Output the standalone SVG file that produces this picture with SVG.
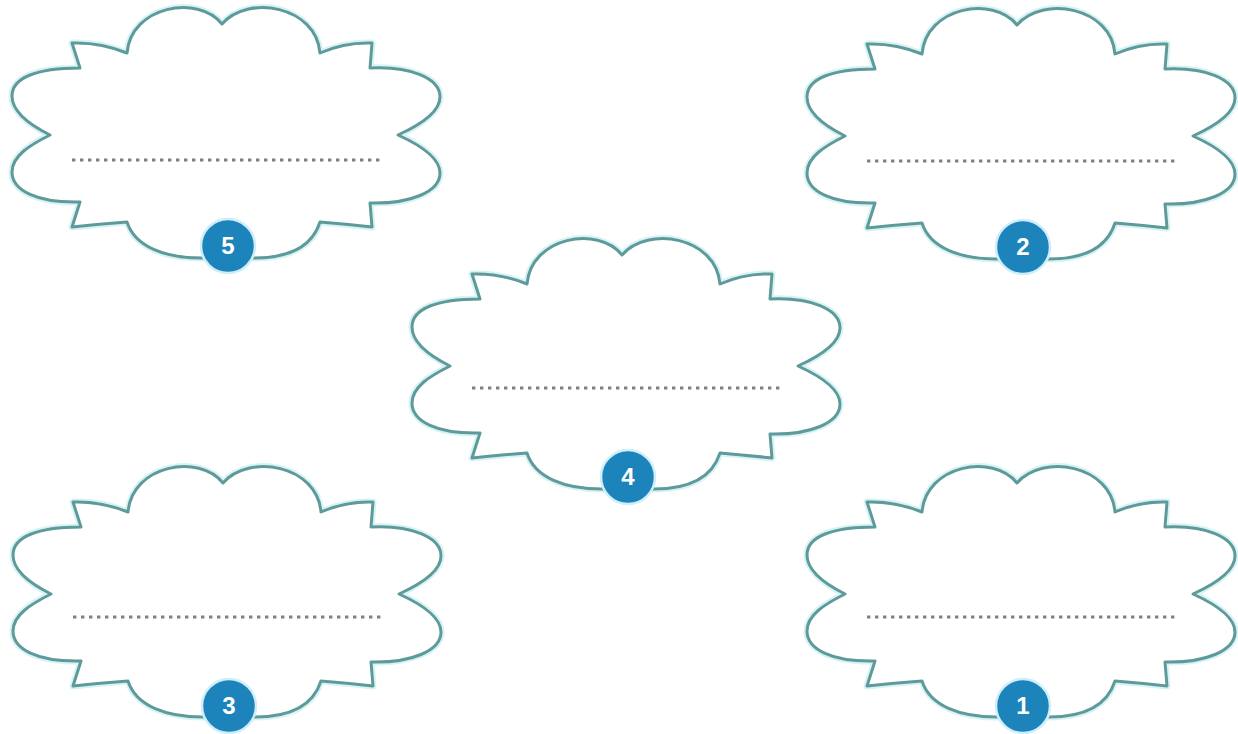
<svg xmlns="http://www.w3.org/2000/svg" xmlns:xlink="http://www.w3.org/1999/xlink" width="1238" height="734" viewBox="0 0 1238 734">
  <style>
    .outline { fill: #ffffff; stroke: #5f9a9b; stroke-width: 3; stroke-linejoin: round; }
    .glow { fill: none; stroke: #d8f3f5; stroke-width: 7; stroke-linejoin: round; }
    .dots { fill: none; stroke: #808080; stroke-width: 3; stroke-dasharray: 3.4 4.6; }
    .badge { fill: #1c84bb; stroke: #cfeefa; stroke-width: 2.5; }
    .num { fill: #ffffff; font-family: "Liberation Sans", Arial, sans-serif; font-weight: bold; font-size: 24px; text-anchor: middle; }
  </style>
  <defs>
    <path id="cloud" d="M 72,43 Q 100,42 127,53 C 131,6 198,-6 222,24 C 248,-6 316,6 320,53 Q 345,42 372,43 L 370,68 C 410,66 440,78 440,97 C 440,112 420,125 398,135 C 420,145 440,158 440,173 C 440,192 410,204 370,203 L 372,227 Q 345,224 320,222 C 312,247 290,258 254,258 L 202,258 C 165,258 135,247 127,222 Q 100,224 72,227 L 80,202 C 36,203 12,190 12,172 C 12,156 30,145 50,135 C 30,125 12,112 12,96 C 12,78 36,68 80,68 Z"/>
  </defs>
  <rect width="1238" height="734" fill="#ffffff"/>
  <g id="connectors"/>
  <g id="node-5">
    <use xlink:href="#cloud" class="glow"/>
    <use xlink:href="#cloud" class="outline"/>
    <line class="dots" x1="72" y1="160" x2="380" y2="160"/>
    <circle class="badge" cx="228" cy="246" r="27"/>
    <text class="num" x="228" y="254">5</text>
  </g>
  <g id="node-2" transform="translate(795,1)">
    <use xlink:href="#cloud" class="glow"/>
    <use xlink:href="#cloud" class="outline"/>
    <line class="dots" x1="72" y1="160" x2="380" y2="160"/>
    <circle class="badge" cx="228" cy="246" r="27"/>
    <text class="num" x="228" y="254">2</text>
  </g>
  <g id="node-4" transform="translate(400,231)">
    <use xlink:href="#cloud" class="glow"/>
    <use xlink:href="#cloud" class="outline"/>
    <line class="dots" x1="72" y1="157" x2="380" y2="157"/>
    <circle class="badge" cx="228" cy="246" r="27"/>
    <text class="num" x="228" y="254">4</text>
  </g>
  <g id="node-3" transform="translate(1,459)">
    <use xlink:href="#cloud" class="glow"/>
    <use xlink:href="#cloud" class="outline"/>
    <line class="dots" x1="72" y1="158" x2="380" y2="158"/>
    <circle class="badge" cx="228" cy="247" r="27"/>
    <text class="num" x="228" y="255">3</text>
  </g>
  <g id="node-1" transform="translate(795,459)">
    <use xlink:href="#cloud" class="glow"/>
    <use xlink:href="#cloud" class="outline"/>
    <line class="dots" x1="72" y1="158" x2="380" y2="158"/>
    <circle class="badge" cx="228" cy="247" r="27"/>
    <text class="num" x="228" y="255">1</text>
  </g>
</svg>
